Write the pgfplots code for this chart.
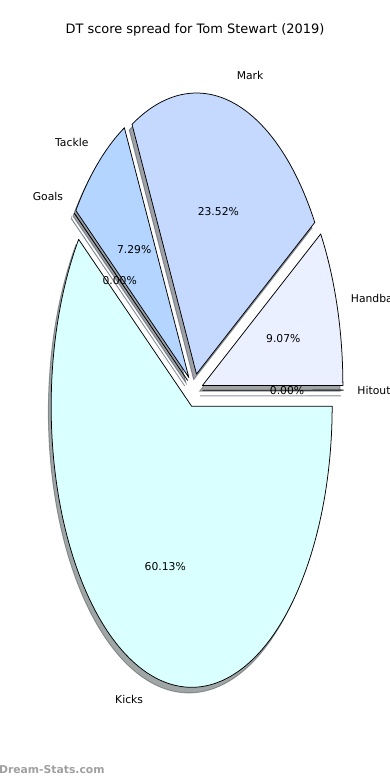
\documentclass[border=0pt]{standalone}
\usepackage{pgfplots}
\pgfplotsset{compat=1.18}
\usepackage{pgfplotstable}
\usepackage{fontspec}
\setmainfont{DejaVu Sans}
\definecolor{cHand}{RGB}{234,240,255}
\definecolor{cMark}{RGB}{197,217,255}
\definecolor{cTack}{RGB}{179,213,255}
\definecolor{cGoal}{RGB}{160,200,255}
\definecolor{cKick}{RGB}{217,255,255}
\definecolor{cHit}{RGB}{200,230,255}
\definecolor{wmark}{RGB}{160,160,160}

\pgfplotstableread{
label    value  face
Handball 9.07   cHand
Mark     23.52  cMark
Tackle   7.29   cTack
Goals    0.00   cGoal
Kicks    60.13  cKick
Hitout   0.00   cHit
}\piedata

\def\pieexplode{0.06}
\def\pieshift{-0.02}

\newcommand\pieshadow[1]{%
  \edef\pietmp{\noexpand\addplot[draw=\csname pieC#1\endcsname!30!black,
    fill=\csname pieC#1\endcsname!30!black, opacity=0.5, line width=0.8pt,
    domain=\csname pieS#1\endcsname:\csname pieD#1\endcsname, samples=180,
    variable=\noexpand\t]
    ({\csname pieSX#1\endcsname+cos(\noexpand\t)},{\csname pieSY#1\endcsname+sin(\noexpand\t)})
    -- (axis cs:\csname pieSX#1\endcsname,\csname pieSY#1\endcsname) -- cycle;}%
  \pietmp}
\newcommand\piewedge[1]{%
  \edef\pietmp{\noexpand\addplot[draw=black,
    fill=\csname pieC#1\endcsname, line width=0.7pt, line join=round,
    domain=\csname pieS#1\endcsname:\csname pieD#1\endcsname, samples=180,
    variable=\noexpand\t]
    ({\csname pieX#1\endcsname+cos(\noexpand\t)},{\csname pieY#1\endcsname+sin(\noexpand\t)})
    -- (axis cs:\csname pieX#1\endcsname,\csname pieY#1\endcsname) -- cycle;}%
  \pietmp}
\newcommand\pietext[1]{%
  \edef\pietmp{\noexpand\node[anchor=\csname pieA#1\endcsname, inner sep=0pt,
      font=\noexpand\fontsize{10}{12}\noexpand\selectfont]
      at (axis cs:\csname pieLX#1\endcsname,\csname pieLY#1\endcsname) {\csname pieL#1\endcsname};
    \noexpand\node[anchor=center, inner sep=0pt,
      font=\noexpand\fontsize{10}{12}\noexpand\selectfont]
      at (axis cs:\csname piePX#1\endcsname,\csname piePY#1\endcsname) {\csname pieV#1\endcsname\noexpand\%};}%
  \pietmp}

\begin{document}
\gdef\pietotal{0}%
\pgfplotstableforeachcolumnelement{value}\of\piedata\as\pieval{%
  \pgfmathsetmacro\pietmpa{\pietotal+\pieval}\xdef\pietotal{\pietmpa}}%
\gdef\piecum{0}%
\pgfplotstableforeachcolumnelement{value}\of\piedata\as\pieval{%
  \pgfmathsetmacro\aS{\piecum}%
  \pgfmathsetmacro\aE{\piecum+\pieval/\pietotal*360}%
  \pgfmathsetmacro\aD{max(\aE,\aS+0.05)}%
  \pgfmathsetmacro\aM{(\aS+\aE)/2}%
  \pgfmathsetmacro\ox{\pieexplode*cos(\aM)}%
  \pgfmathsetmacro\oy{\pieexplode*sin(\aM)}%
  \pgfmathsetmacro\sx{\ox+\pieshift}%
  \pgfmathsetmacro\sy{\oy+\pieshift}%
  \pgfmathsetmacro\lx{(\pieexplode+1.1)*cos(\aM)}%
  \pgfmathsetmacro\ly{(\pieexplode+1.1)*sin(\aM)}%
  \pgfmathsetmacro\ppx{(\pieexplode+0.6)*cos(\aM)}%
  \pgfmathsetmacro\ppy{(\pieexplode+0.6)*sin(\aM)}%
  \ifdim\lx pt>0pt \def\anc{west}\else\def\anc{east}\fi
  \expandafter\xdef\csname pieS\pgfplotstablerow\endcsname{\aS}%
  \expandafter\xdef\csname pieD\pgfplotstablerow\endcsname{\aD}%
  \expandafter\xdef\csname pieX\pgfplotstablerow\endcsname{\ox}%
  \expandafter\xdef\csname pieY\pgfplotstablerow\endcsname{\oy}%
  \expandafter\xdef\csname pieSX\pgfplotstablerow\endcsname{\sx}%
  \expandafter\xdef\csname pieSY\pgfplotstablerow\endcsname{\sy}%
  \expandafter\xdef\csname pieLX\pgfplotstablerow\endcsname{\lx}%
  \expandafter\xdef\csname pieLY\pgfplotstablerow\endcsname{\ly}%
  \expandafter\xdef\csname piePX\pgfplotstablerow\endcsname{\ppx}%
  \expandafter\xdef\csname piePY\pgfplotstablerow\endcsname{\ppy}%
  \expandafter\xdef\csname pieA\pgfplotstablerow\endcsname{\anc}%
  \expandafter\xdef\csname pieV\pgfplotstablerow\endcsname{\pieval}%
  \xdef\piecum{\aE}}%
\pgfplotstableforeachcolumnelement{label}\of\piedata\as\piecell{%
  \expandafter\xdef\csname pieL\pgfplotstablerow\endcsname{\piecell}}%
\pgfplotstableforeachcolumnelement{face}\of\piedata\as\piecell{%
  \expandafter\xdef\csname pieC\pgfplotstablerow\endcsname{\piecell}}%
\begin{tikzpicture}
\useasboundingbox (0,0) rectangle (5in,10in);
\clip (0,0) rectangle (5in,10in);
\begin{axis}[
  at={(0,0)}, anchor=south west,
  width=5in, height=10in, scale only axis,
  xmin=-1.3829, xmax=1.3929, ymin=-1.3868, ymax=1.3890,
  hide axis, clip=false,
]
\pgfplotsinvokeforeach{0,...,5}{\pieshadow{#1}}
\pgfplotsinvokeforeach{0,...,5}{\piewedge{#1}}
\pgfplotsinvokeforeach{0,...,5}{\pietext{#1}}
\node[font=\fontsize{12}{14.4}\selectfont, inner sep=0pt] at (rel axis cs:0.5,0.9615) {DT score spread for Tom Stewart (2019)};
\node[font=\bfseries\fontsize{10}{12}\selectfont, text=wmark, anchor=west, inner sep=0pt] at (rel axis cs:-0.003,0.0128) {Dream-Stats.com};
\end{axis}
\end{tikzpicture}
\end{document}
